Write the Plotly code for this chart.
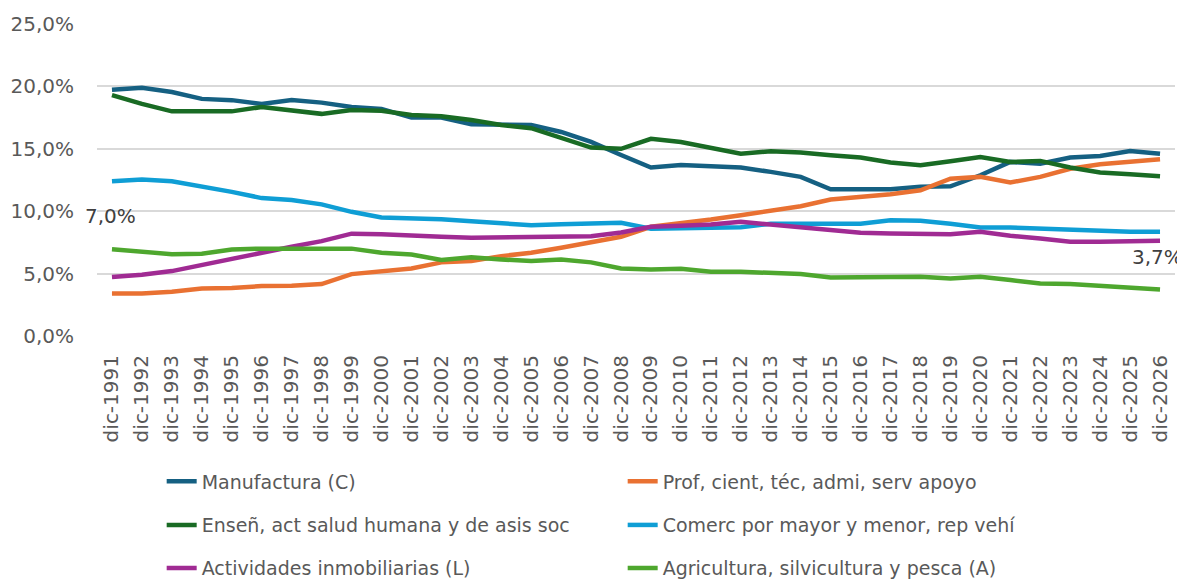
import plotly.graph_objects as go

years = list(range(1991, 2027))
fechas = [f"dic-{y}" for y in years]

manufactura = [19.73, 19.9, 19.55, 19.0, 18.9, 18.6, 18.9, 18.7, 18.35, 18.2, 17.5, 17.5,
               16.96, 16.93, 16.9, 16.35, 15.55, 14.5, 13.5, 13.7, 13.6, 13.5, 13.15, 12.75,
               11.76, 11.76, 11.76, 11.95, 12.0, 12.88, 13.95, 13.8, 14.3, 14.43, 14.83, 14.61]
profesional = [3.41, 3.41, 3.55, 3.8, 3.84, 4.0, 4.03, 4.16, 4.96, 5.17, 5.41, 5.9,
               6.0, 6.4, 6.67, 7.07, 7.55, 7.95, 8.75, 9.0, 9.33, 9.68, 10.03, 10.4,
               10.93, 11.15, 11.36, 11.68, 12.6, 12.75, 12.3, 12.75, 13.4, 13.76, 13.95, 14.16]
ensenanza = [19.3, 18.6, 18.0, 18.0, 18.0, 18.35, 18.1, 17.8, 18.1, 18.05, 17.7, 17.6,
             17.3, 16.9, 16.65, 15.9, 15.1, 15.0, 15.8, 15.55, 15.1, 14.6, 14.8, 14.7,
             14.48, 14.3, 13.9, 13.68, 14.0, 14.35, 13.95, 14.03, 13.5, 13.1, 12.96, 12.8]
comercio = [12.4, 12.55, 12.4, 12.0, 11.55, 11.05, 10.9, 10.55, 9.95, 9.5, 9.45, 9.35,
            9.2, 9.0, 8.88, 8.96, 9.0, 9.07, 8.6, 8.67, 8.7, 8.72, 9.0, 9.0,
            9.0, 9.0, 9.28, 9.23, 9.0, 8.7, 8.7, 8.6, 8.48, 8.45, 8.35, 8.35]
inmobiliarias = [4.72, 4.9, 5.2, 5.7, 6.13, 6.67, 7.15, 7.6, 8.2, 8.16, 8.1, 7.95,
                 7.87, 7.9, 8.0, 8.0, 8.0, 8.3, 8.75, 8.83, 8.93, 9.15, 8.93, 8.8,
                 8.56, 8.27, 8.21, 8.21, 8.16, 8.35, 8.03, 7.81, 7.55, 7.55, 7.6, 7.63]
agricultura = [6.96, 6.72, 6.56, 6.6, 6.93, 7.0, 7.0, 7.05, 7.0, 6.67, 6.53, 6.1,
               6.3, 6.13, 6.0, 6.13, 5.9, 5.41, 5.33, 5.39, 5.15, 5.15, 5.07, 4.96,
               4.69, 4.69, 4.69, 4.75, 4.61, 4.75, 4.48, 4.21, 4.16, 4.03, 3.84, 3.73]

series = [
    ("Manufactura (C)", manufactura, "#156082", "legend"),
    ("Prof, cient, téc, admi, serv apoyo", profesional, "#E97132", "legend"),
    ("Enseñ, act salud humana y de asis soc", ensenanza, "#196B24", "legend2"),
    ("Comerc por mayor y menor, rep vehí", comercio, "#0F9ED5", "legend2"),
    ("Actividades inmobiliarias (L)", inmobiliarias, "#A02B93", "legend3"),
    ("Agricultura, silvicultura y pesca (A)", agricultura, "#4EA72E", "legend3"),
]

FONT = "DejaVu Sans"
GREY = "#595959"

fig = go.Figure()
for name, vals, color, leg in series:
    fig.add_trace(go.Scatter(
        x=fechas, y=vals, name=name, mode="lines",
        line=dict(color=color, width=4.5),
        legend=leg,
    ))


def pct(v):
    return f"{v:.1f}%".replace(".", ",")


# etiquetas de datos (primer y último valor de Agricultura)
fig.add_annotation(x=fechas[0], y=agricultura[0], text=pct(agricultura[0]),
                   showarrow=False, xshift=-1, yshift=33,
                   font=dict(family=FONT, size=20, color="#404040"))
fig.add_annotation(x=fechas[-1], y=agricultura[-1], text=pct(agricultura[-1]),
                   showarrow=False, xshift=-3, yshift=32,
                   font=dict(family=FONT, size=20, color="#404040"))

leg_common = dict(orientation="h", xanchor="left", yanchor="middle",
                  entrywidth=416, bgcolor="rgba(0,0,0,0)",
                  font=dict(family=FONT, size=19, color=GREY))

# la página html añade 8px de margen al body: se compensa aquí
fig.update_layout(
    width=1177, height=574,
    margin=dict(l=89, r=10, t=16, b=246, autoexpand=False),
    paper_bgcolor="white", plot_bgcolor="white",
    separators=",.",
    font=dict(family=FONT, size=20, color=GREY),
    showlegend=True,
    legend=dict(x=0.06, y=-0.466, **leg_common),
    legend2=dict(x=0.06, y=-0.606, **leg_common),
    legend3=dict(x=0.06, y=-0.744, **leg_common),
)

fig.update_xaxes(
    type="category", tickangle=-90, showgrid=False, showline=False,
    ticks="", ticklabelstandoff=14, automargin=False,
    tickfont=dict(family=FONT, size=20, color=GREY),
    range=[-0.5, len(fechas) - 0.5],
)
fig.update_yaxes(
    range=[0, 25], dtick=5, tickformat=".1f", ticksuffix="%",
    gridcolor="#d9d9d9", gridwidth=1.5, zeroline=False, showline=False,
    ticks="", ticklabelstandoff=22, automargin=False,
    tickfont=dict(family=FONT, size=20, color=GREY),
)

fig.write_html("out.html")
